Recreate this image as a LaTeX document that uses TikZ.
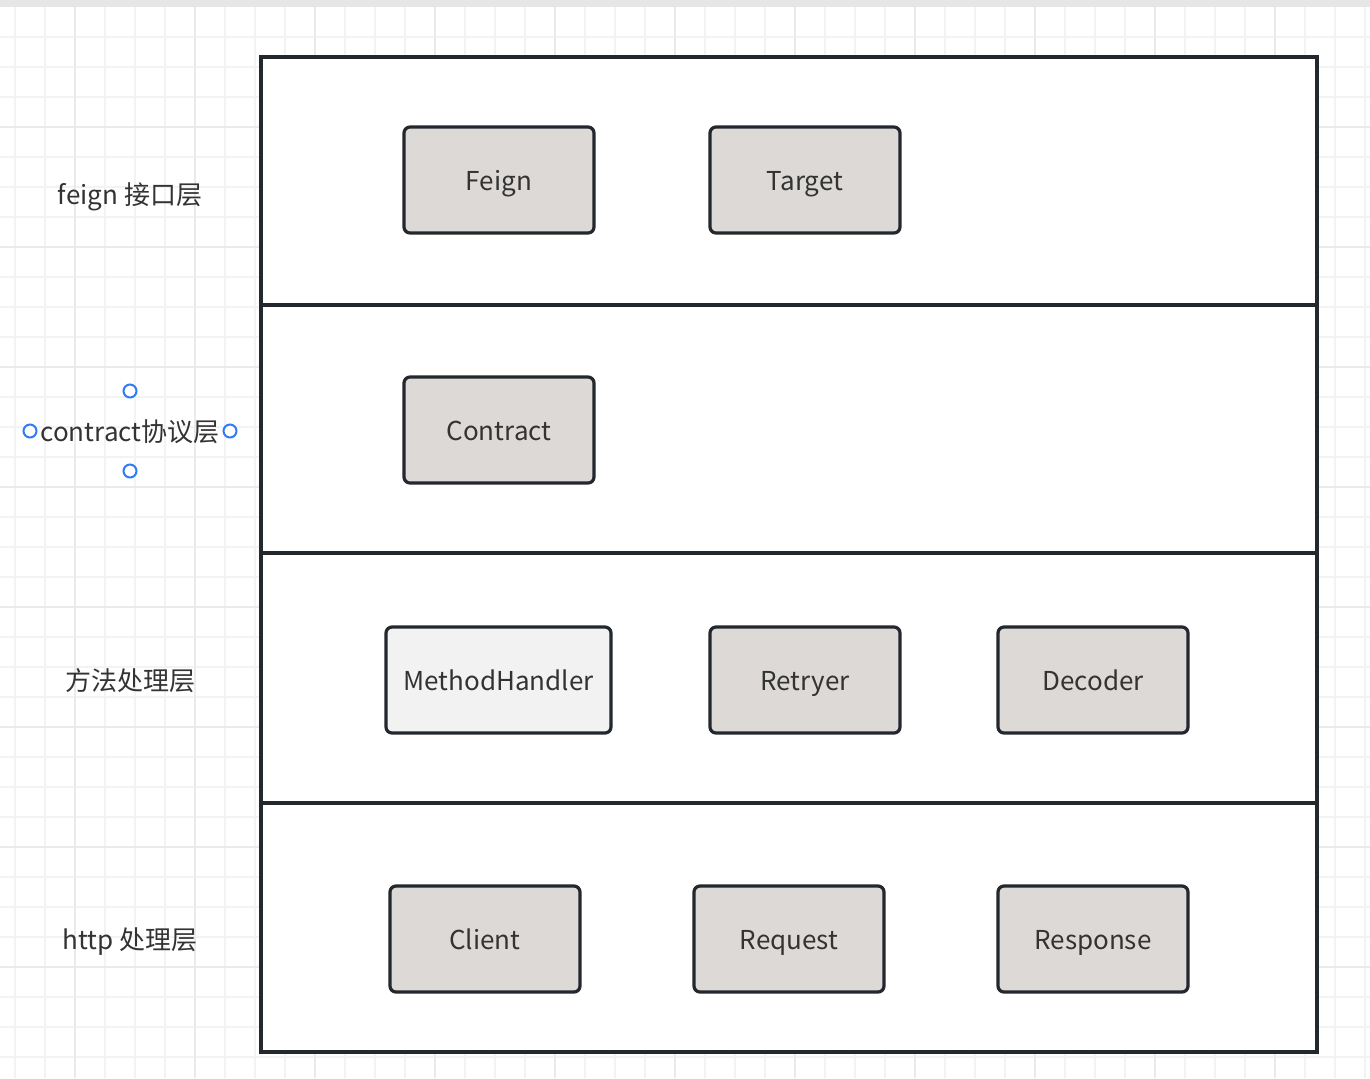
\documentclass[tikz,border=0pt]{standalone}
\usepackage{fontspec}
\setmainfont{Noto Sans CJK SC}

\definecolor{frameline}{HTML}{23272E}
\definecolor{boxfill}{HTML}{DCD9D6}
\definecolor{lightfill}{HTML}{F2F2F2}
\definecolor{gridminor}{HTML}{F3F3F3}
\definecolor{gridmajor}{HTML}{EAEAEA}
\definecolor{topbar}{HTML}{E6E6E6}
\definecolor{textgray}{HTML}{333333}
\definecolor{handleblue}{HTML}{2F7BF5}

\begin{document}
\begin{tikzpicture}[x=0.5pt,y=-0.5pt,
		comp/.style={shape=rectangle,draw=frameline,fill=boxfill,line width=1.6pt,rounded corners=3pt,
			minimum width=95pt,minimum height=53pt,text=textgray,font=\fontsize{13}{15}\selectfont,
			text height=11pt,text depth=1pt},
		layerlabel/.style={text=textgray,font=\fontsize{13}{15}\selectfont,inner sep=0pt,
			text height=11pt,text depth=1pt},
		handle/.style={shape=circle,draw=handleblue,line width=1pt,fill=white,minimum size=6.5pt,inner sep=0pt}]
				\useasboundingbox (0,0) rectangle (1370,1078);
				% grid paper
				\fill[white] (0,0) rectangle (1370,1078);
				\foreach \gx in {15,45,...,1365} \draw[gridminor, line width=0.75pt] (\gx,0) -- (\gx,1078);
				\foreach \gy in {37,67,...,1077} \draw[gridminor, line width=0.75pt] (0,\gy) -- (1370,\gy);
				\foreach \gx in {75,195,...,1365} \draw[gridmajor, line width=1pt] (\gx,0) -- (\gx,1078);
				\foreach \gy in {127,247,...,1077} \draw[gridmajor, line width=1pt] (0,\gy) -- (1370,\gy);
				\fill[topbar] (0,0) rectangle (1370,7);
				
				% layers
				\fill[white] (261,57) rectangle (1317,1052);
				\draw[frameline, line width=1.6pt] (261,305) -- (1317,305);
				\draw[frameline, line width=1.6pt] (261,553) -- (1317,553);
				\draw[frameline, line width=1.6pt] (261,803) -- (1317,803);
				\draw[frameline, line width=1.6pt] (261,57) rectangle (1317,1052);
				
				\node[layerlabel] (feignlabel) at (130,194) {feign 接口层};
				\node[layerlabel] (contractlabel) at (130,431) {contract协议层};
				\node[layerlabel] (methodlabel) at (130,680) {方法处理层};
				\node[layerlabel] (httplabel) at (130,939) {http 处理层};
				
				\node[handle] (hn) at (130,391) {};
				\node[handle] (hs) at (130,471) {};
				\node[handle] (hw) at (30,431) {};
				\node[handle] (he) at (230,431) {};
				
				\node[comp] (feign) at (499,180) {Feign};
				\node[comp] (target) at (805,180) {Target};
				\node[comp] (contract) at (499,430) {Contract};
				\node[comp, fill=lightfill, minimum width=112.5pt] (handler) at (498.5,680) {MethodHandler};
				\node[comp] (retryer) at (805,680) {Retryer};
				\node[comp] (decoder) at (1093,680) {Decoder};
				\node[comp] (client) at (485,939) {Client};
				\node[comp] (request) at (789,939) {Request};
				\node[comp] (response) at (1093,939) {Response};
			\end{tikzpicture}
\end{document}
